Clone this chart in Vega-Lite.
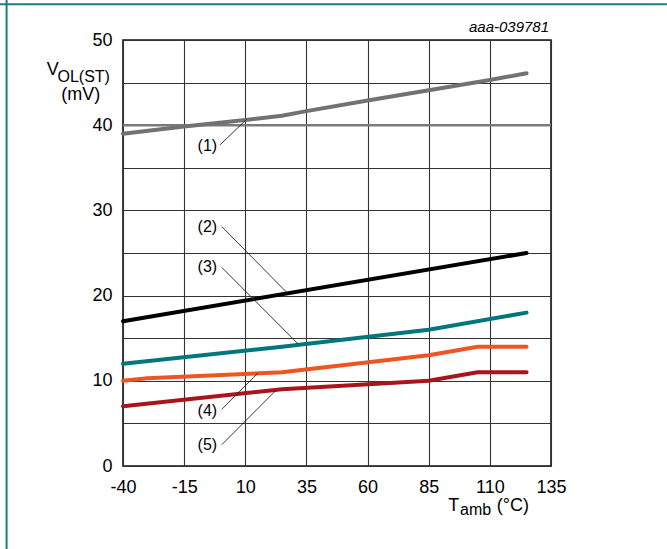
{
  "$schema": "https://vega.github.io/schema/vega-lite/v6.json",
  "width": 428,
  "height": 426,
  "autosize": "none",
  "padding": {"left": 123, "top": 40, "right": 116, "bottom": 83},
  "background": "white",
  "config": {
    "view": {"stroke": "#111111", "strokeWidth": 1.6},
    "font": "Liberation Sans"
  },
  "datasets": {
    "curves": [
      {"s": "1", "t": -40, "v": 39.0}, {"s": "1", "t": -15, "v": 39.85}, {"s": "1", "t": 10, "v": 40.6}, {"s": "1", "t": 25, "v": 41.1}, {"s": "1", "t": 35, "v": 41.65}, {"s": "1", "t": 60, "v": 42.9}, {"s": "1", "t": 85, "v": 44.1}, {"s": "1", "t": 110, "v": 45.3}, {"s": "1", "t": 125, "v": 46.1},
      {"s": "2", "t": -40, "v": 17.0}, {"s": "2", "t": 125, "v": 25.0},
      {"s": "3", "t": -40, "v": 12.0}, {"s": "3", "t": 25, "v": 14.0}, {"s": "3", "t": 85, "v": 16.0}, {"s": "3", "t": 125, "v": 18.0},
      {"s": "4", "t": -40, "v": 10.0}, {"s": "4", "t": -30, "v": 10.3}, {"s": "4", "t": 25, "v": 11.0}, {"s": "4", "t": 85, "v": 13.0}, {"s": "4", "t": 105, "v": 14.0}, {"s": "4", "t": 125, "v": 14.0},
      {"s": "5", "t": -40, "v": 7.0}, {"s": "5", "t": 25, "v": 9.0}, {"s": "5", "t": 85, "v": 10.0}, {"s": "5", "t": 105, "v": 11.0}, {"s": "5", "t": 125, "v": 11.0}
    ],
    "leaders": [
      {"t1": -0.3, "v1": 37.7, "t2": 10.6, "v2": 40.7},
      {"t1": 0.4, "v1": 28.1, "t2": 27.2, "v2": 20.3},
      {"t1": 0.4, "v1": 23.3, "t2": 31.7, "v2": 14.3},
      {"t1": 0.4, "v1": 6.65, "t2": 15.1, "v2": 10.9},
      {"t1": 0.4, "v1": 2.5, "t2": 22.6, "v2": 8.9}
    ],
    "labels": [
      {"txt": "(1)", "t": -5.5, "v": 37.6},
      {"txt": "(2)", "t": -5.5, "v": 28.0},
      {"txt": "(3)", "t": -5.5, "v": 23.4},
      {"txt": "(4)", "t": -5.5, "v": 6.4},
      {"txt": "(5)", "t": -5.5, "v": 2.45}
    ],
    "bigtext": [
      {"txt": "V", "t": -71.2, "v": 45.9},
      {"txt": "T", "t": 93.0, "v": -5.34},
      {"txt": "(°C)", "t": 112.8, "v": -5.34}
    ],
    "subtext": [
      {"txt": "OL(ST)", "t": -66.8, "v": 45.07},
      {"txt": "amb", "t": 97.8, "v": -5.75}
    ],
    "midtext": [
      {"txt": "(mV)", "t": -57.3, "v": 43.0}
    ],
    "ref": [{"v": 40}],
    "frame": [
      {"t1": -90.3, "v1": 54.2, "t2": 182.4, "v2": 54.2},
      {"t1": -87.6, "v1": 54.7, "t2": -87.6, "v2": -9.74}
    ]
  },
  "layer": [
    {
      "data": {"name": "frame"},
      "mark": {"type": "rule", "color": "#1f7b82", "strokeWidth": 2},
      "encoding": {
        "x": {"field": "t1", "type": "quantitative"},
        "y": {"field": "v1", "type": "quantitative"},
        "x2": {"field": "t2"},
        "y2": {"field": "v2"}
      }
    },
    {
      "data": {"name": "ref"},
      "mark": {"type": "rule", "color": "#7a7a7a", "strokeWidth": 2.5},
      "encoding": {
        "y": {
          "field": "v", "type": "quantitative",
          "scale": {"domain": [0, 50], "nice": false, "zero": false},
          "axis": {
            "values": [0, 5, 10, 15, 20, 25, 30, 35, 40, 45, 50],
            "labelExpr": "datum.value % 10 === 0 ? datum.value + '' : ''",
            "grid": true, "gridColor": "#333333", "gridWidth": 1.1,
            "domain": false, "ticks": false, "labelFlush": false,
            "labelFontSize": 18, "labelColor": "#000000", "labelPadding": 11,
            "labelFont": "Liberation Sans",
            "title": null
          }
        }
      }
    },
    {
      "data": {"name": "curves"},
      "mark": {"type": "line", "strokeWidth": 4, "strokeCap": "round", "strokeJoin": "round"},
      "encoding": {
        "x": {
          "field": "t", "type": "quantitative",
          "scale": {"domain": [-40, 135], "nice": false, "zero": false},
          "axis": {
            "values": [-40, -15, 10, 35, 60, 85, 110, 135],
            "labelExpr": "datum.value + ''",
            "grid": true, "gridColor": "#333333", "gridWidth": 1.1,
            "domain": false, "ticks": false, "labelFlush": false,
            "labelFontSize": 18, "labelColor": "#000000", "labelPadding": 12,
            "labelFont": "Liberation Sans",
            "title": null
          }
        },
        "y": {"field": "v", "type": "quantitative"},
        "color": {
          "field": "s", "type": "nominal",
          "scale": {"domain": ["1", "2", "3", "4", "5"], "range": ["#727272", "#000000", "#00777d", "#ee5522", "#a8161c"]},
          "legend": null
        }
      }
    },
    {
      "data": {"name": "leaders"},
      "mark": {"type": "rule", "color": "#222222", "strokeWidth": 0.9},
      "encoding": {
        "x": {"field": "t1", "type": "quantitative"},
        "y": {"field": "v1", "type": "quantitative"},
        "x2": {"field": "t2"},
        "y2": {"field": "v2"}
      }
    },
    {
      "data": {"name": "labels"},
      "mark": {"type": "text", "fontSize": 16, "align": "center", "baseline": "middle", "color": "#000000"},
      "encoding": {
        "x": {"field": "t", "type": "quantitative"},
        "y": {"field": "v", "type": "quantitative"},
        "text": {"field": "txt"}
      }
    },
    {
      "data": {"name": "bigtext"},
      "mark": {"type": "text", "fontSize": 18, "align": "left", "baseline": "alphabetic", "color": "#000000"},
      "encoding": {
        "x": {"field": "t", "type": "quantitative"},
        "y": {"field": "v", "type": "quantitative"},
        "text": {"field": "txt"}
      }
    },
    {
      "data": {"name": "subtext"},
      "mark": {"type": "text", "fontSize": 16, "align": "left", "baseline": "alphabetic", "color": "#000000"},
      "encoding": {
        "x": {"field": "t", "type": "quantitative"},
        "y": {"field": "v", "type": "quantitative"},
        "text": {"field": "txt"}
      }
    },
    {
      "data": {"name": "midtext"},
      "mark": {"type": "text", "fontSize": 18, "align": "center", "baseline": "alphabetic", "color": "#000000"},
      "encoding": {
        "x": {"field": "t", "type": "quantitative"},
        "y": {"field": "v", "type": "quantitative"},
        "text": {"field": "txt"}
      }
    },
    {
      "data": {"values": [{"txt": "aaa-039781", "t": 134.2, "v": 50.9}]},
      "mark": {"type": "text", "fontSize": 15, "fontStyle": "italic", "align": "right", "baseline": "alphabetic", "color": "#000000"},
      "encoding": {
        "x": {"field": "t", "type": "quantitative"},
        "y": {"field": "v", "type": "quantitative"},
        "text": {"field": "txt"}
      }
    }
  ]
}
